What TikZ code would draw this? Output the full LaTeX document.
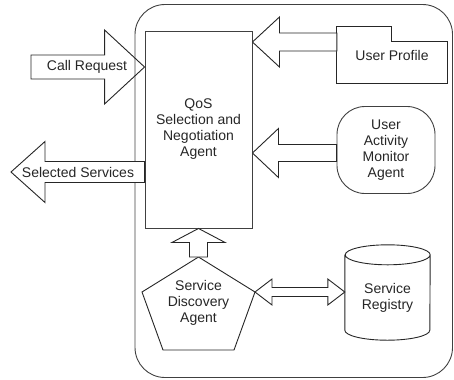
\documentclass[tikz,border=0pt]{standalone}
\usepackage{fontspec}
\setmainfont{Liberation Sans}
\usetikzlibrary{calc,positioning,arrows.meta}
\pgfdeclarelayer{back}
\pgfsetlayers{back,main}

% block arrow: tail, tip, shaft half width, head half width, head length
\newcommand{\blockarrow}[6][]{%
  \path ($(#3)!#6!(#2)$) coordinate (hb);
  \draw[blk,#1] ($(#2)!#4!90:(#3)$) -- ($(hb)!#4!90:(#3)$) -- ($(hb)!#5!90:(#3)$) -- (#3)
    -- ($(hb)!#5!-90:(#3)$) -- ($(hb)!#4!-90:(#3)$) -- ($(#2)!#4!-90:(#3)$) -- cycle;}
% double block arrow: end a, end b, shaft half width, head half width, head length
\newcommand{\dblarrow}[5]{%
  \path ($(#1)!#5!(#2)$) coordinate (ha) ($(#2)!#5!(#1)$) coordinate (hb);
  \draw[blk] (#1) -- ($(ha)!#4!90:(#2)$) -- ($(ha)!#3!90:(#2)$) -- ($(hb)!#3!90:(#2)$)
    -- ($(hb)!#4!90:(#2)$) -- (#2) -- ($(hb)!#4!-90:(#2)$) -- ($(hb)!#3!-90:(#2)$)
    -- ($(ha)!#3!-90:(#2)$) -- ($(ha)!#4!-90:(#2)$) -- cycle;}

\begin{document}
\begin{tikzpicture}[x=1bp, y=-1bp, >=Latex,
                every node/.append style={align=center, text=black!85,
                  font=\fontsize{14bp}{16bp}\selectfont},
                int/.style={draw=black!75, line width=0.9bp},
                blk/.style={draw=black!85, line width=0.9bp, fill=white}]
  \useasboundingbox (0,0) rectangle (454,379);

  \begin{pgfonlayer}{back}
    \draw[int, rounded corners=30bp] (135,4.5) rectangle (452.5,377.5);
  \end{pgfonlayer}

  \node [int, minimum width=107bp, minimum height=197bp] (qos) at (198.5,129.5)
        {QoS\\Selection and\\Negotiation\\Agent};
  \node [minimum width=110bp, minimum height=56bp] (prof) at (392,55) {User Profile};
  \draw [blk, fill=none] (prof.north west) -- ++(55,0) -- ++(0,15) -| (prof.south east)
        -- (prof.south west) -- cycle;
  \node [int, rounded corners=28bp, minimum width=98bp, minimum height=87bp] (act)
        at (386,150) {User\\Activity\\Monitor\\Agent};
  \node [minimum width=85bp, minimum height=85bp] (reg) at (387.5,297.5) {};
  \draw [blk] (reg.north west) -- ([yshift=10bp]reg.south west)
        arc [start angle=180, end angle=360, x radius=42.5bp, y radius=10bp]
        -- (reg.north east)
        arc [start angle=0, end angle=360, x radius=42.5bp, y radius=10bp];
  \node at (reg) {Service\\Registry};
  \draw [blk] (198.5,257) coordinate (dtop) -- (255,292) coordinate (dright)
        -- (234,350) -- (163,350) -- (142,292) -- cycle;
  \node (disc) at (198.5,303) {Service\\Discovery\\Agent};

  \coordinate (callin) at (31,67);
  \coordinate (selout) at (11,172);
  \coordinate (proftail) at ([yshift=13bp]prof.west);
  \coordinate (acttail) at ([yshift=-3bp]act.west);
  \blockarrow[fill=none]{callin}{qos.west |- callin}{12bp}{37bp}{40bp}
  \blockarrow{qos.west |- selout}{selout}{10.5bp}{30.5bp}{34bp}
  \blockarrow{proftail}{qos.east |- proftail}{9bp}{25bp}{27bp}
  \blockarrow{acttail}{qos.east |- acttail}{8.5bp}{24.5bp}{26bp}
  \blockarrow{dtop}{qos.south}{9bp}{26.5bp}{14bp}
  \coordinate (regin) at (reg.west |- dright);
  \dblarrow{dright}{regin}{4.5bp}{13bp}{17bp}

  \node (call) at (87,67) {Call Request};
  \node (sel) at (78,172) {Selected Services};
\end{tikzpicture}
\end{document}
